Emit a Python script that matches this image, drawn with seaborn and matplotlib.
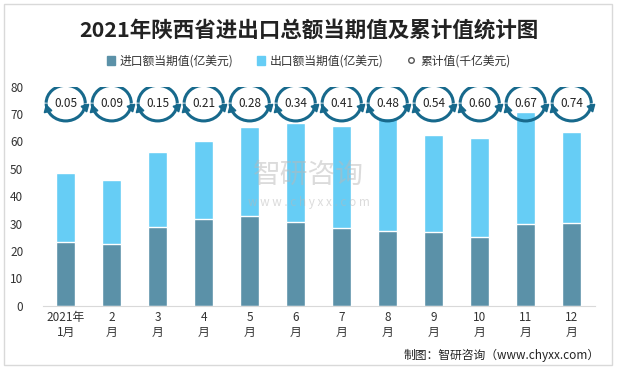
import numpy as np
import pandas as pd
import matplotlib.pyplot as plt
import seaborn as sns
from matplotlib.patches import Arc, Rectangle
from matplotlib.lines import Line2D

# data
months = ["2021年\n1月", "2\n月", "3\n月", "4\n月", "5\n月", "6\n月",
          "7\n月", "8\n月", "9\n月", "10\n月", "11\n月", "12\n月"]
imports = [23.3, 22.5, 28.7, 31.7, 32.8, 30.6, 28.4, 27.3, 27.0, 25.1, 29.9, 30.2]
totals = [48.4, 45.9, 56.1, 60.1, 65.2, 66.7, 65.6, 68.5, 62.3, 61.2, 70.7, 63.4]
exports = [round(t - i, 1) for t, i in zip(totals, imports)]
cumulative = ["0.05", "0.09", "0.15", "0.21", "0.28", "0.34",
              "0.41", "0.48", "0.54", "0.60", "0.67", "0.74"]

c_imp = "#5b91a8"
c_exp = "#66cdf5"
c_arrow = "#17698c"

df = pd.DataFrame({"month": months, "import": imports, "export": exports})
df["total"] = df["import"] + df["export"]

sns.set_style("white")
plt.rcParams['font.family'] = ['Noto Sans CJK SC', 'DejaVu Sans']

fig = plt.figure(figsize=(6.17, 3.69), dpi=100)
ax = fig.add_axes([42.7 / 617, 1 - 305.7 / 369, 552 / 617, 219 / 369])

sns.barplot(data=df, x="month", y="total", color=c_exp, width=0.42,
            saturation=1, ax=ax)
sns.barplot(data=df, x="month", y="import", color=c_imp, width=0.42,
            saturation=1, ax=ax)

ax.set_xlim(-0.5, 11.5)
ax.set_ylim(0, 80)
ax.set_yticks(range(0, 81, 10))
ax.set_xlabel("")
ax.set_ylabel("")
ax.tick_params(axis="both", length=0, labelsize=8.5, colors="#333333")
ax.tick_params(axis="y", pad=14)
for s in ["top", "right", "left"]:
    ax.spines[s].set_visible(False)
ax.spines["bottom"].set_color("#d9d9d9")

# cyclic arrow badges with the cumulative values
cy, w, h = 74.0, 0.85, 13.0
for i, val in enumerate(cumulative):
    ax.add_patch(Arc((i, cy), w, h, theta1=-12, theta2=160, color=c_arrow, lw=2.2, zorder=4))
    ax.add_patch(Arc((i, cy), w, h, theta1=198, theta2=330, color=c_arrow, lw=2.2, zorder=4))
    a1 = np.deg2rad(-12)
    ax.plot(i + w / 2 * np.cos(a1), cy + h / 2 * np.sin(a1), marker=(3, 0, 195),
            color=c_arrow, ms=6.5, zorder=5)
    a2 = np.deg2rad(198)
    ax.plot(i + w / 2 * np.cos(a2), cy + h / 2 * np.sin(a2), marker=(3, 0, 15),
            color=c_arrow, ms=6.5, zorder=5)
    ax.text(i, cy, val, ha="center", va="center", fontsize=8.5, color="#222222", zorder=6)

# watermark
fig.text(0.5, 0.525, "智研咨询", ha="center", va="center", fontsize=20,
         color="#b8b8b8", alpha=0.5, zorder=10)
fig.text(0.5, 0.45, "w w w . c h y x x . c o m", ha="center", va="center",
         fontsize=8.5, color="#b8b8b8", alpha=0.5, zorder=10)

fig.text(0.5, 1 - 30 / 369, "2021年陕西省进出口总额当期值及累计值统计图", ha="center",
         va="center", fontsize=15.5, fontweight="bold", color="#222222")

handles = [
    Rectangle((0, 0), 1, 1, color=c_imp),
    Rectangle((0, 0), 1, 1, color=c_exp),
    Line2D([], [], marker="o", ls="", mfc="white", mec="#555555", ms=4),
]
fig.legend(handles, ["进口额当期值(亿美元)", "出口额当期值(亿美元)", "累计值(千亿美元)"],
           loc="center", bbox_to_anchor=(0.5, 1 - 61 / 369), ncol=3, frameon=False,
           fontsize=8.5, handlelength=0.7, handleheight=0.7, columnspacing=2,
           handletextpad=0.4, labelcolor="#333333")

fig.text(600 / 617, 1 - 355 / 369, "制图：智研咨询（www.chyxx.com）", ha="right",
         va="center", fontsize=8.5, color="#222222")

fig.patches.append(Rectangle((4 / 617, 4 / 369), 608 / 617, 361 / 369, fill=False,
                             edgecolor="#d9d9d9", lw=1, transform=fig.transFigure))

fig.savefig("out.png", dpi=100)
